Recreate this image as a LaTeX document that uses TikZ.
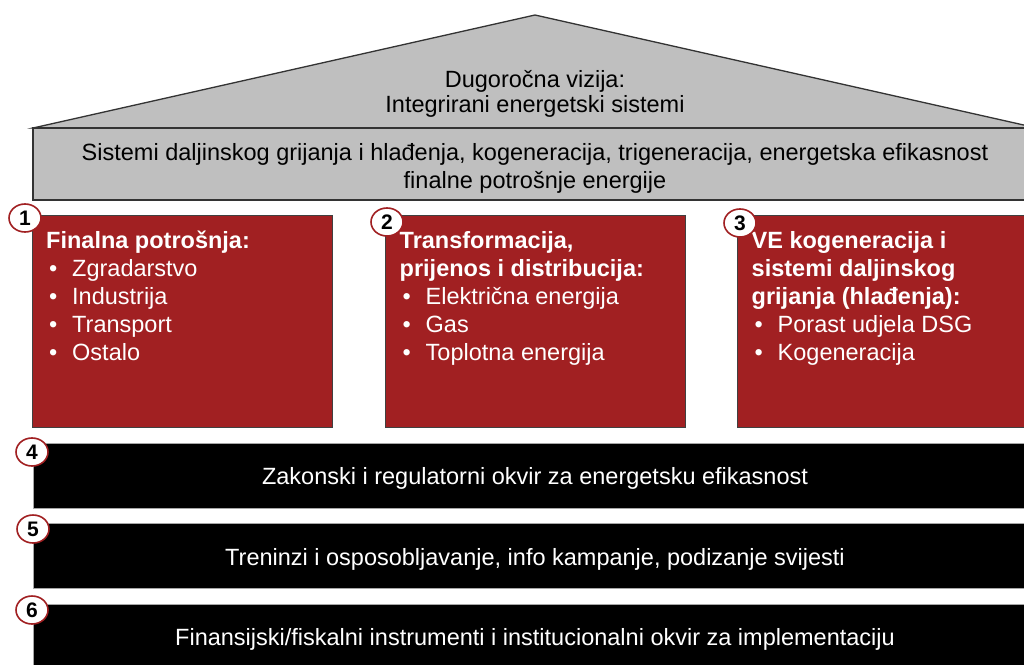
\documentclass[tikz,border=0pt]{standalone}
\usepackage{fontspec}
\setmainfont{Liberation Sans}
\usepackage{xcolor}
\usepackage{tikz}
\usetikzlibrary{shapes.geometric}
\definecolor{stubred}{RGB}{161,32,34}
\definecolor{krovgray}{RGB}{191,191,191}
\newcommand{\stavka}[1]{\hspace*{3pt}\makebox[23pt][l]{\textbullet}#1}

\begin{document}
\begin{tikzpicture}[x=1pt, y=-1pt,
  krov/.style={draw=black!80, line width=1.3pt, fill=krovgray},
  stub/.style={draw=black!75, line width=1pt, fill=stubred, minimum width=300pt, minimum height=212pt, inner sep=0pt},
  stubtxt/.style={anchor=north west, inner sep=0pt, align=left, text=white, font=\fontsize{23.5}{28}\selectfont},
  temelj/.style={draw=gray!70, fill=black, minimum width=1004pt, minimum height=65pt, inner sep=0pt},
  temeljtxt/.style={text=white, font=\fontsize{23.5}{28}\selectfont},
  broj/.style={ellipse, draw=stubred, line width=1.6pt, fill=white, minimum width=32pt, minimum height=28pt, inner sep=0pt, font=\fontsize{21}{21}\selectfont\bfseries},
]
\clip (0,0) rectangle (1024,664);
\fill[white] (0,0) rectangle (1024,664);
% krov
\draw[krov] (33,128) -- (535,15) -- (1037,128) -- cycle;
\node[align=center, font=\fontsize{23.5}{25}\selectfont] (vizija) at (535,94)
  {Dugoročna vizija:\\Integrirani energetski sistemi};
\node[krov, minimum width=1004pt, minimum height=72pt, inner sep=0pt] (sistemi) at (535,164) {};
\node[align=center, font=\fontsize{23.5}{28}\selectfont] (sistemitxt) at (535,168)
  {Sistemi daljinskog grijanja i hlađenja, kogeneracija, trigeneracija, energetska efikasnost\\finalne potrošnje energije};
% stubovi
\node[stub] (s1) at (182.5,321) {};
\node[stub] (s2) at (535,321) {};
\node[stub] (s3) at (887,321) {};
\node[stubtxt] (t1) at ([shift={(14,16.5)}]s1.north west)
  {\textbf{Finalna potrošnja:}\\\stavka{Zgradarstvo}\\\stavka{Industrija}\\\stavka{Transport}\\\stavka{Ostalo}};
\node[stubtxt] (t2) at ([shift={(15,16.5)}]s2.north west)
  {\textbf{Transformacija,}\\\textbf{prijenos i distribucija:}\\\stavka{Električna energija}\\\stavka{Gas}\\\stavka{Toplotna energija}};
\node[stubtxt] (t3) at ([shift={(15,16.5)}]s3.north west)
  {\textbf{VE kogeneracija i}\\\textbf{sistemi daljinskog}\\\textbf{grijanja (hlađenja):}\\\stavka{Porast udjela DSG}\\\stavka{Kogeneracija}};
% temelji
\node[temelj] (z4) at (535,475.5) {};
\node[temelj] (z5) at (535,555.5) {};
\node[temelj] (z6) at (535,636.5) {};
\node[temeljtxt] (z4txt) at (535,478) {Zakonski i regulatorni okvir za energetsku efikasnost};
\node[temeljtxt] (z5txt) at (535,559) {Treninzi i osposobljavanje, info kampanje, podizanje svijesti};
\node[temeljtxt] (z6txt) at (535,639) {Finansijski/fiskalni instrumenti i institucionalni okvir za implementaciju};
% brojevi
\node[broj] (n1) at (25,218) {1};
\node[broj] (n2) at (387,222) {2};
\node[broj] (n3) at (740,223) {3};
\node[broj] (n4) at (32,452) {4};
\node[broj] (n5) at (33,529) {5};
\node[broj] (n6) at (32,610) {6};
\end{tikzpicture}
\end{document}
